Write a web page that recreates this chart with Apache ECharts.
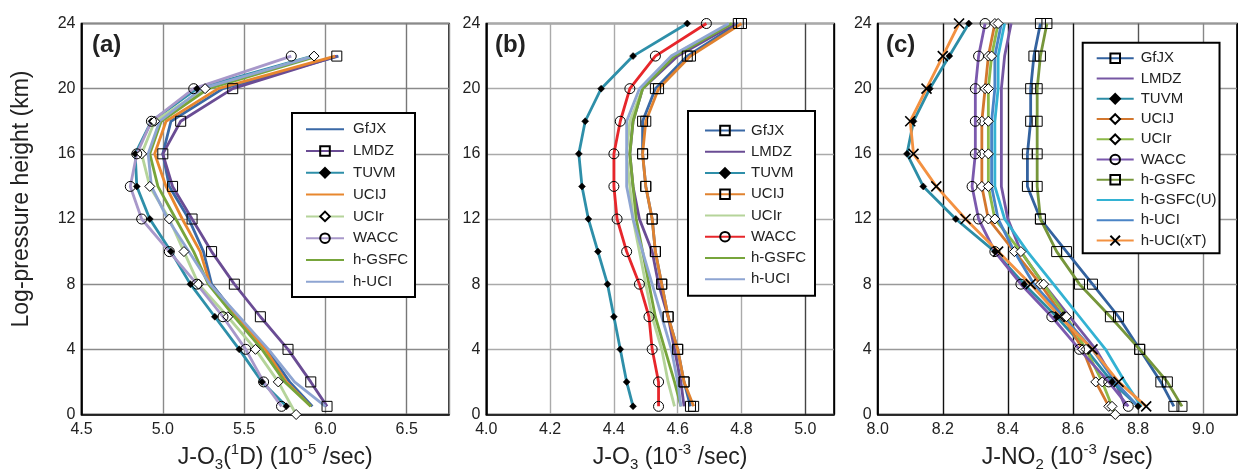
<!DOCTYPE html>
<html>
<head>
<meta charset="utf-8">
<script src="https://cdn.jsdelivr.net/npm/echarts@6/dist/echarts.min.js"></script>
<style>
html,body{margin:0;padding:0;background:#fff;}
#chart{width:1238px;height:469px;}
</style>
</head>
<body>
<div id="chart"></div>
<script>
// ---------- DATA ----------
const levels12 = [0.5, 2, 4, 6, 8, 10, 12, 14, 16, 18, 20, 22];
const levels13 = [0.5, 2, 4, 6, 8, 10, 12, 14, 16, 18, 20, 22, 24];
const levelsUCIrA = [0, 2, 4, 6, 8, 10, 12, 14, 16, 18, 20, 22];
const levelsUCIrC = [0, 0.5, 2, 4, 6, 8, 10, 12, 14, 16, 18, 20, 22, 24];
const yTicks = [0, 4, 8, 12, 16, 20, 24];

// Panel (a): J-O3(1D), 1e-5 /s
const aGfJX  = [5.92, 5.78, 5.64, 5.46, 5.30, 5.25, 5.16, 5.04, 5.00, 5.05, 5.37, 6.08];
const aLMDZ  = [6.01, 5.91, 5.77, 5.60, 5.44, 5.30, 5.18, 5.06, 5.00, 5.11, 5.43, 6.07];
const aTUVM  = [5.76, 5.61, 5.47, 5.32, 5.17, 5.05, 4.92, 4.84, 4.83, 4.93, 5.21, 5.92];
const aUCIJ  = [5.91, 5.76, 5.63, 5.46, 5.29, 5.23, 5.12, 5.02, 4.95, 5.02, 5.34, 6.06];
const aUCIr  = [5.82, 5.71, 5.57, 5.40, 5.22, 5.13, 5.04, 4.92, 4.87, 4.95, 5.26, 5.93];
const aWACC  = [5.73, 5.62, 5.51, 5.37, 5.21, 5.04, 4.87, 4.80, 4.84, 4.93, 5.19, 5.79];
const aHGSFC = [5.91, 5.75, 5.61, 5.44, 5.28, 5.19, 5.08, 4.97, 4.92, 4.99, 5.28, 5.95];
const aHUCI  = [6.00, 5.81, 5.65, 5.47, 5.29, 5.16, 5.03, 4.93, 4.91, 4.98, 5.24, 5.93];

// Panel (b): J-O3, 1e-3 /s
const bGfJX  = [4.64, 4.62, 4.60, 4.57, 4.55, 4.53, 4.52, 4.50, 4.49, 4.49, 4.53, 4.63, 4.79];
const bLMDZ  = [4.62, 4.61, 4.59, 4.57, 4.54, 4.52, 4.48, 4.46, 4.45, 4.46, 4.49, 4.60, 4.78];
const bTUVM  = [4.46, 4.44, 4.42, 4.40, 4.38, 4.35, 4.32, 4.30, 4.29, 4.31, 4.36, 4.46, 4.63];
const bUCIJ  = [4.65, 4.62, 4.60, 4.57, 4.55, 4.53, 4.52, 4.50, 4.49, 4.50, 4.54, 4.64, 4.80];
const bUCIr  = [4.59, 4.57, 4.55, 4.52, 4.50, 4.48, 4.46, 4.45, 4.44, 4.45, 4.49, 4.58, 4.77];
const bWACC  = [4.54, 4.54, 4.52, 4.51, 4.48, 4.44, 4.41, 4.40, 4.40, 4.42, 4.45, 4.53, 4.69];
const bHGSFC = [4.61, 4.59, 4.56, 4.53, 4.51, 4.49, 4.47, 4.46, 4.45, 4.46, 4.49, 4.59, 4.77];
const bHUCI  = [4.61, 4.60, 4.58, 4.55, 4.52, 4.49, 4.46, 4.44, 4.44, 4.44, 4.48, 4.58, 4.76];

// Panel (c): J-NO2, 1e-3 /s
const cGfJX   = [8.91, 8.87, 8.805, 8.74, 8.66, 8.58, 8.50, 8.46, 8.46, 8.47, 8.47, 8.48, 8.50];
const cLMDZ   = [8.76, 8.73, 8.67, 8.59, 8.51, 8.44, 8.40, 8.38, 8.38, 8.38, 8.38, 8.39, 8.41];
const cTUVM   = [8.80, 8.72, 8.64, 8.55, 8.45, 8.36, 8.24, 8.14, 8.09, 8.11, 8.16, 8.22, 8.28];
const cUCIJ   = [8.71, 8.67, 8.63, 8.57, 8.50, 8.42, 8.34, 8.32, 8.32, 8.32, 8.33, 8.34, 8.36];
const cUCIr   = [8.73, 8.72, 8.69, 8.64, 8.58, 8.51, 8.44, 8.36, 8.34, 8.34, 8.34, 8.34, 8.35, 8.37];
const cWACC   = [8.77, 8.71, 8.62, 8.535, 8.44, 8.36, 8.31, 8.29, 8.30, 8.30, 8.30, 8.31, 8.33];
const cHGSFC  = [8.935, 8.89, 8.805, 8.715, 8.62, 8.55, 8.50, 8.49, 8.49, 8.49, 8.49, 8.50, 8.52];
const cHGSFCU = [8.81, 8.76, 8.70, 8.62, 8.54, 8.46, 8.39, 8.36, 8.36, 8.36, 8.37, 8.37, 8.39];
const cHUCI   = [8.80, 8.73, 8.66, 8.57, 8.48, 8.42, 8.37, 8.35, 8.35, 8.35, 8.36, 8.36, 8.38];
const cHUCIxT = [8.825, 8.74, 8.66, 8.56, 8.47, 8.37, 8.27, 8.18, 8.11, 8.10, 8.15, 8.20, 8.25];

// ---------- STYLE ----------
const FONT = 'Liberation Sans, Arial, Helvetica, sans-serif';
const MARK = {
  sq:   { symbol: 'rect', size: 10, itemStyle: { color: 'rgba(255,255,255,0)', borderColor: '#000', borderWidth: 1 } },
  dot:  { symbol: 'diamond', size: 7, itemStyle: { color: '#000', borderColor: '#000', borderWidth: 0.5 } },
  dia:  { symbol: 'diamond', size: 10, itemStyle: { color: '#fff', borderColor: '#000', borderWidth: 1 } },
  circ: { symbol: 'circle', size: 10, itemStyle: { color: 'rgba(255,255,255,0)', borderColor: '#000', borderWidth: 1 } },
  x:    { symbol: 'path://M0,0L10,10M10,0L0,10', size: 10, itemStyle: { color: 'none', borderColor: '#000', borderWidth: 1.6 } }
};

const series = [];
const legends = [[], [], []];
function add(panel, name, levels, vals, color, mark) {
  const id = name + '|' + panel;
  const data = vals.map((v, i) => [v, levels[i]]);
  const s = {
    type: 'line', name: id, xAxisIndex: panel, yAxisIndex: panel,
    data: data, clip: false, animation: false, smooth: false,
    lineStyle: { color: color, width: 2.8 },
    emphasis: { disabled: true }
  };
  if (mark) {
    const m = MARK[mark];
    s.symbol = m.symbol; s.symbolSize = m.size; s.itemStyle = Object.assign({}, m.itemStyle);
    s.showSymbol = true;
    legends[panel].push({ name: id });
  } else {
    s.symbol = 'none'; s.showSymbol = false;
    s.itemStyle = { color: color };
    legends[panel].push({ name: id, itemStyle: { opacity: 0 } });
  }
  series.push(s);
}

// (a)
add(0, 'GfJX', levels12, aGfJX, '#3a69a6', null);
add(0, 'LMDZ', levels12, aLMDZ, '#6a4c94', 'sq');
add(0, 'TUVM', levels12, aTUVM, '#2e8fa9', 'dot');
add(0, 'UCIJ', levels12, aUCIJ, '#e8872e', null);
add(0, 'UCIr', levelsUCIrA, aUCIr, '#b5d49a', 'dia');
add(0, 'WACC', levels12, aWACC, '#a898ca', 'circ');
add(0, 'h-GSFC', levels12, aHGSFC, '#77a53b', null);
add(0, 'h-UCI', levels12, aHUCI, '#8ea5d2', null);
// (b)
add(1, 'GfJX', levels13, bGfJX, '#3a69a6', 'sq');
add(1, 'LMDZ', levels13, bLMDZ, '#6a4c94', null);
add(1, 'TUVM', levels13, bTUVM, '#2e8fa9', 'dot');
add(1, 'UCIJ', levels13, bUCIJ, '#e0822f', 'sq');
add(1, 'UCIr', levels13, bUCIr, '#b5d49a', null);
add(1, 'WACC', levels13, bWACC, '#e7262b', 'circ');
add(1, 'h-GSFC', levels13, bHGSFC, '#77a53b', null);
add(1, 'h-UCI', levels13, bHUCI, '#8ea5d2', null);
// (c)
add(2, 'GfJX', levels13, cGfJX, '#33629f', 'sq');
add(2, 'LMDZ', levels13, cLMDZ, '#7657a3', null);
add(2, 'TUVM', levels13, cTUVM, '#2c8da6', 'dot');
add(2, 'UCIJ', levels13, cUCIJ, '#d3772e', 'dia');
add(2, 'UCIr', levelsUCIrC, cUCIr, '#8cb948', 'dia');
add(2, 'WACC', levels13, cWACC, '#7b59ad', 'circ');
add(2, 'h-GSFC', levels13, cHGSFC, '#76963a', 'sq');
add(2, 'h-GSFC(U)', levels13, cHGSFCU, '#33b2d3', null);
add(2, 'h-UCI', levels13, cHUCI, '#4a84c6', null);
add(2, 'h-UCI(xT)', levels13, cHUCIxT, '#f39141', 'x');

// ---------- LAYOUT ----------
const grids = [
  { left: 81.5, top: 23.5, width: 367.5, height: 391 },
  { left: 486.3, top: 23.5, width: 347.7, height: 391 },
  { left: 877.7, top: 23.5, width: 359.3, height: 391 }
];
const xCfg = [
  { min: 4.5, max: 6.76, interval: 0.5, name: 'J-O{sub|3}({sup|1}D) (10{sup|-5} /sec)',
    vColors: ['#000', '#8a8a8a', '#8a8a8a', '#8a8a8a', '#777', '#888'], hColor: '#8a8a8a' },
  { min: 4.0, max: 5.09, interval: 0.2, name: 'J-O{sub|3} (10{sup|-3} /sec)',
    vColors: ['#000', '#aaa', '#aaa', '#aaa', '#aaa', '#444', '#000'], hColor: '#aaa' },
  { min: 8.0, max: 9.104, interval: 0.2, name: 'J-NO{sub|2} (10{sup|-3} /sec)',
    vColors: ['#000', '#111', '#111', '#111', '#555', '#888', '#000'], hColor: '#999' }
];
const legendPos = [
  { left: 292, top: 113, padding: [8.7, 7, 7.7, 13], itemGap: 6.8, itemWidth: 38, textPad: 4 },
  { left: 688, top: 111, padding: [12, 9, 9, 16], itemGap: 6.24, itemWidth: 40, textPad: 1 },
  { left: 1082.7, top: 42.7, padding: [8, 3, 5.3, 13], itemGap: 5.26, itemWidth: 37, textPad: 2 }
];

const option = {
  backgroundColor: '#fff',
  animation: false,
  textStyle: { fontFamily: FONT },
  grid: grids.map(g => Object.assign({ show: true, borderColor: '#000', borderWidth: 1.6, backgroundColor: 'transparent',
                                       containLabel: false, outerBoundsMode: 'none' }, g)),
  xAxis: xCfg.map((c, i) => ({
    type: 'value', gridIndex: i, min: c.min, max: c.max, interval: c.interval,
    axisLine: { show: true, lineStyle: { color: '#000', width: 1.6 } },
    axisTick: { show: false },
    axisLabel: { fontSize: 16, color: '#222', fontFamily: FONT, margin: 7, showMaxLabel: false,
                 formatter: v => v.toFixed(1) },
    splitLine: { show: true, lineStyle: { color: c.vColors, width: 1.4 } },
    name: c.name, nameLocation: 'middle', nameGap: 27,
    nameTextStyle: { fontSize: 23, color: '#222', fontFamily: FONT, lineHeight: 30, padding: [0, 0, 0, 20],
      rich: {
        sub: { fontSize: 15, lineHeight: 14, verticalAlign: 'bottom', fontFamily: FONT, color: '#222' },
        sup: { fontSize: 15, lineHeight: 14, verticalAlign: 'top', fontFamily: FONT, color: '#222' }
      } }
  })),
  yAxis: xCfg.map((c, i) => ({
    type: 'value', gridIndex: i, min: yTicks[0], max: yTicks[yTicks.length - 1], interval: 4,
    axisLine: { show: true, lineStyle: { color: '#000', width: 1.6 } },
    axisTick: { show: false },
    axisLabel: { fontSize: 16, color: '#222', fontFamily: FONT, margin: 6 },
    splitLine: { show: true, lineStyle: { color: c.hColor, width: 1.4 } },
    name: i === 0 ? 'Log-pressure height (km)' : '',
    nameLocation: 'middle', nameGap: 48,
    nameTextStyle: { fontSize: 23, color: '#222', fontFamily: FONT, padding: [0, 0, 0, 40] }
  })),
  legend: legends.map((items, i) => {
    const p = legendPos[i];
    return {
      orient: 'vertical', left: p.left, top: p.top, padding: p.padding,
      itemGap: p.itemGap, itemWidth: p.itemWidth, itemHeight: 12,
      borderColor: '#000', borderWidth: 2, backgroundColor: '#fff',
      selectedMode: false, data: items,
      formatter: n => n.split('|')[0],
      textStyle: { fontSize: 15, color: '#222', fontFamily: FONT, lineHeight: 14, padding: [0, 0, 0, p.textPad] }
    };
  }),
  graphic: [
    { type: 'text', left: 92, top: 33, style: { text: '(a)', font: 'bold 24px ' + FONT, fill: '#222' } },
    { type: 'text', left: 495, top: 33, style: { text: '(b)', font: 'bold 24px ' + FONT, fill: '#222' } },
    { type: 'text', left: 886, top: 33, style: { text: '(c)', font: 'bold 24px ' + FONT, fill: '#222' } }
  ],
  series: series
};

const chart = echarts.init(document.getElementById('chart'), null, { renderer: 'canvas', width: 1238, height: 469 });
chart.setOption(option);
</script>
</body>
</html>
